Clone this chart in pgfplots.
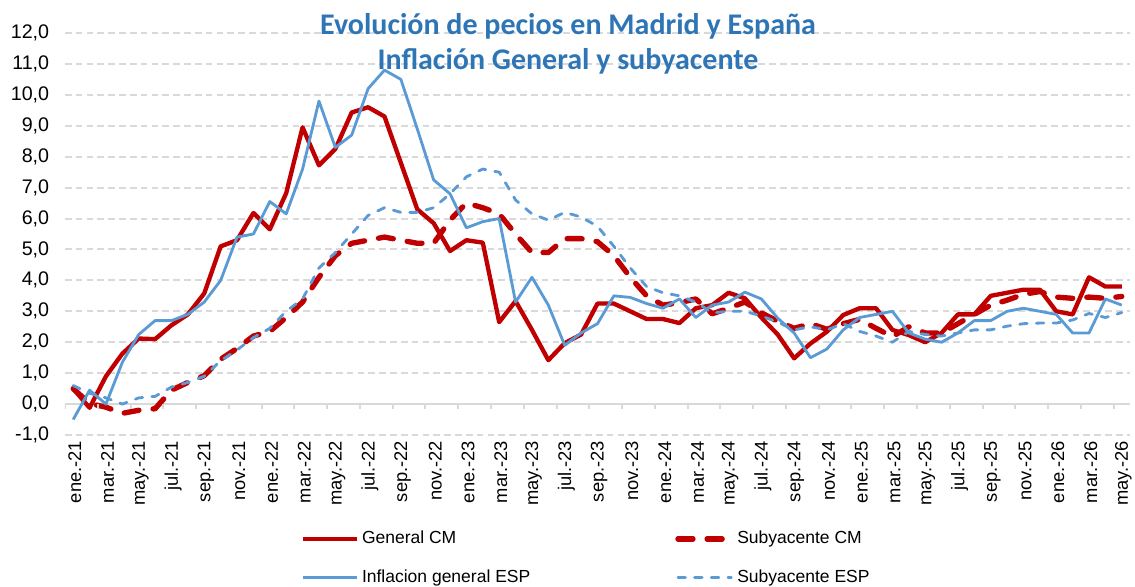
\documentclass[border=0pt]{standalone}
\usepackage{pgfplots}
\pgfplotsset{compat=1.18}
\usepackage{pgfplotstable}
\usepackage{fontspec}
\setmainfont{Liberation Sans}
\newfontfamily\titlefont{Carlito}
\definecolor{cmred}{HTML}{C00000}
\definecolor{espblue}{HTML}{5B9BD5}
\definecolor{titleblue}{HTML}{2E75B6}
\definecolor{gridgray}{HTML}{D9D9D9}

\pgfplotstableread{
x gcm scm gesp sesp
0 0.5 0.5 -0.5 0.6
1 -0.12 0.02 0.45 0.35
2 0.9 -0.1 0.0 0.2
3 1.63 -0.3 1.35 0.0
4 2.12 -0.2 2.25 0.2
5 2.1 -0.15 2.7 0.25
6 2.55 0.45 2.7 0.55
7 2.9 0.7 2.9 0.7
8 3.58 0.92 3.3 0.9
9 5.1 1.45 4.0 1.4
10 5.3 1.8 5.4 1.75
11 6.18 2.2 5.5 2.15
12 5.65 2.35 6.55 2.45
13 6.82 2.8 6.15 3.0
14 8.95 3.3 7.6 3.4
15 7.72 4.1 9.8 4.4
16 8.25 4.8 8.3 4.9
17 9.43 5.2 8.7 5.5
18 9.6 5.3 10.2 6.1
19 9.3 5.4 10.8 6.35
20 7.8 5.3 10.5 6.2
21 6.3 5.2 8.9 6.2
22 5.85 5.2 7.25 6.35
23 4.95 5.95 6.8 6.8
24 5.3 6.5 5.7 7.35
25 5.22 6.35 5.9 7.6
26 2.65 6.15 6.0 7.5
27 3.33 5.5 3.3 6.6
28 2.4 4.9 4.1 6.15
29 1.42 4.9 3.2 5.95
30 1.97 5.35 1.9 6.2
31 2.25 5.35 2.3 6.05
32 3.25 5.25 2.6 5.75
33 3.25 4.8 3.5 5.1
34 3.0 4.1 3.45 4.4
35 2.75 3.5 3.25 3.8
36 2.75 3.2 3.1 3.6
37 2.62 3.28 3.4 3.5
38 3.1 3.4 2.8 3.3
39 3.2 2.92 3.2 2.95
40 3.6 3.1 3.3 3.0
41 3.42 3.3 3.62 3.0
42 2.8 2.95 3.4 2.85
43 2.25 2.68 2.78 2.65
44 1.48 2.45 2.3 2.4
45 1.96 2.6 1.5 2.5
46 2.34 2.42 1.78 2.4
47 2.88 2.6 2.4 2.6
48 3.1 2.74 2.8 2.35
49 3.1 2.45 2.9 2.2
50 2.4 2.18 3.0 2.0
51 2.23 2.5 2.3 2.35
52 2.0 2.3 2.1 2.25
53 2.3 2.3 2.0 2.2
54 2.9 2.6 2.3 2.3
55 2.9 2.9 2.7 2.4
56 3.5 3.2 2.7 2.4
57 3.6 3.36 3.0 2.52
58 3.7 3.55 3.1 2.6
59 3.7 3.64 3.0 2.62
60 3.0 3.46 2.9 2.62
61 2.9 3.42 2.3 2.72
62 4.1 3.46 2.3 2.93
63 3.8 3.42 3.4 2.8
64 3.8 3.48 3.2 2.96
}\data

\begin{document}
\begin{tikzpicture}
\useasboundingbox (-39pt,-90.6pt) rectangle (642pt,261pt);
\begin{axis}[
  at={(0pt,0pt)}, anchor=south west,
  scale only axis, width=639pt, height=241.2pt,
  xmin=-0.5, xmax=64.5, ymin=-1, ymax=12,
  axis line style={draw=none},
  major tick length=0pt,
  xtick={0,2,...,64},
  xticklabels={ene.-21,mar.-21,may.-21,jul.-21,sep.-21,nov.-21,
    ene.-22,mar.-22,may.-22,jul.-22,sep.-22,nov.-22,
    ene.-23,mar.-23,may.-23,jul.-23,sep.-23,nov.-23,
    ene.-24,mar.-24,may.-24,jul.-24,sep.-24,nov.-24,
    ene.-25,mar.-25,may.-25,jul.-25,sep.-25,nov.-25,
    ene.-26,mar.-26,may.-26},
  xticklabel style={rotate=90, anchor=east, font=\fontsize{11}{13}\selectfont, yshift=-1pt},
  ytick={-1,1,2,...,12},
  extra y ticks={0},
  extra y tick style={major grid style={solid, draw=gridgray, line width=1.3pt}},
  ymajorgrids,
  major grid style={draw=gridgray, line width=1.2pt, dash pattern=on 4pt off 2.5pt},
  yticklabel style={font=\fontsize{11.8}{14}\selectfont, xshift=-6pt},
  /pgf/number format/fixed,
  /pgf/number format/fixed zerofill,
  /pgf/number format/precision=1,
  /pgf/number format/use comma,
  /pgf/number format/assume math mode=true,
  legend columns=2,
  legend cell align=left,
  legend style={at={(axis description cs:0.2166,-0.222)}, anchor=north west,
    draw=none, fill=none, font=\fontsize{10.5}{12}\selectfont, row sep=10pt,
    /tikz/every even column/.append style={column sep=85pt}},
  legend image code/.code={\draw[#1] (0pt,0pt) -- (32pt,0pt);},
]
\addplot[cmred, line width=2.6pt, line join=round] table[x=x,y=gcm]{\data};
\addlegendentry{General CM}
\addplot[cmred, line width=3.2pt, line join=round, line cap=round, dash pattern=on 9pt off 8.5pt] table[x=x,y=scm]{\data};
\addlegendentry{Subyacente CM}
\addplot[espblue, line width=1.7pt, line join=round] table[x=x,y=gesp]{\data};
\addlegendentry{Inflacion general ESP}
\addplot[espblue, line width=1.7pt, line join=round, line cap=round, dash pattern=on 4.5pt off 5.5pt] table[x=x,y=sesp]{\data};
\addlegendentry{Subyacente ESP}
\pgfplotsinvokeforeach{-0.5,1.5,...,63.5}{
  \draw[gridgray, line width=1.2pt] (axis cs:#1,0) -- ++(0pt,-3pt);
}
\end{axis}
\node[anchor=base, font=\titlefont\bfseries\fontsize{18}{20}\selectfont, text=titleblue] at (301.8pt,240.6pt) {Evolución de pecios en Madrid y España};
\node[anchor=base, font=\titlefont\bfseries\fontsize{18}{20}\selectfont, text=titleblue] at (301.8pt,219.6pt) {Inflación General y subyacente};
\end{tikzpicture}
\end{document}
